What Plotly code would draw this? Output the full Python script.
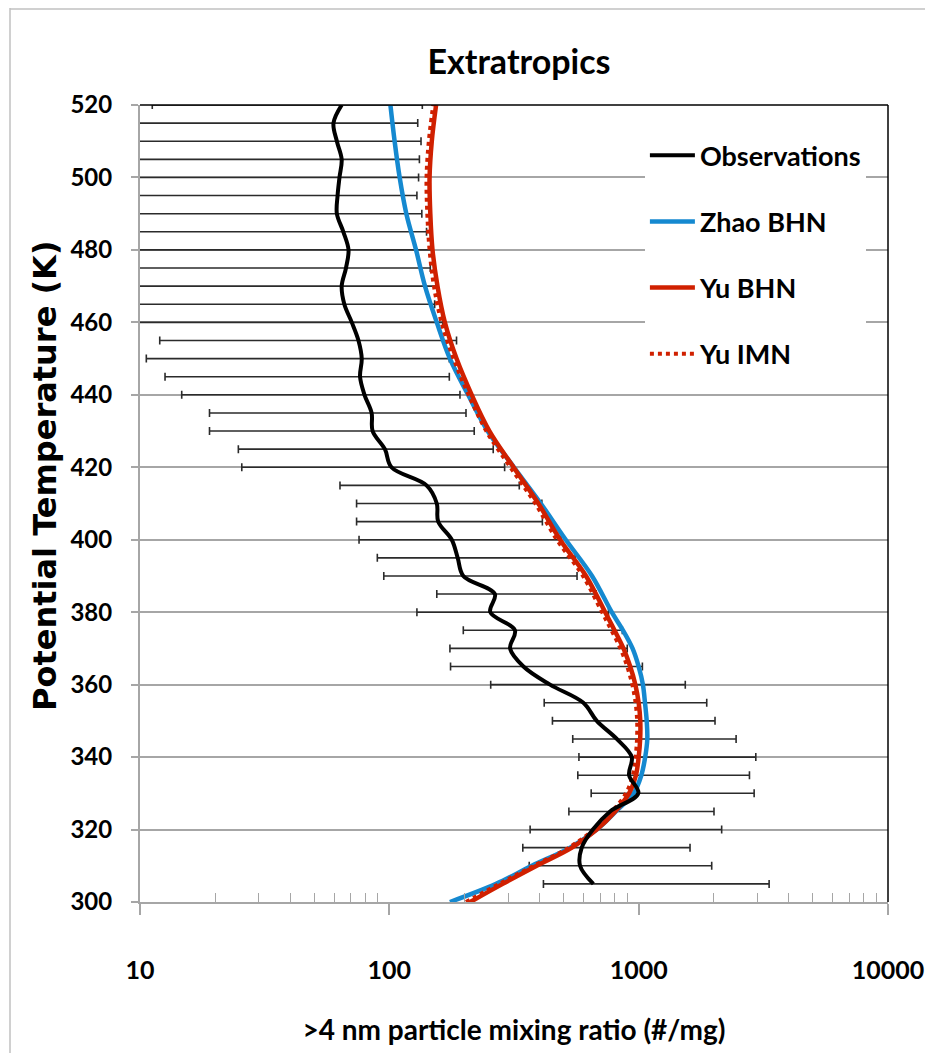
import plotly.graph_objects as go

# ---------------- data ----------------
theta_obs = [305, 310, 315, 320, 325, 330, 335, 340, 345, 350, 355, 360, 365, 370,
             375, 380, 385, 390, 395, 400, 405, 410, 415, 420, 425, 430, 435, 440,
             445, 450, 455, 460, 465, 470, 475, 480, 485, 490, 495, 500, 505, 510,
             515, 520]
obs = [658, 582, 591, 655, 768, 997, 915, 938, 817, 679, 600, 441, 345, 305,
       319, 254, 265, 198, 188, 178, 157, 155, 141, 102, 96, 85.7, 84.9, 79.5,
       76.3, 77.5, 75.2, 70.7, 66, 64.4, 67, 68.6, 65.4, 61.6, 62, 63.1, 64.4, 61.6,
       59.7, 64.4]
obs_low = [415, 364, 343, 367, 525, 645, 570, 576, 544, 451, 418, 255, 176, 175,
           198, 129, 155, 95, 89.5, 75.6, 73.9, 73.9, 63.4, 25.6, 24.8, 19, 19, 14.7,
           12.6, 10.6, 12, 8, 8, 8, 8, 8, 8, 8, 8, 8, 8, 8,
           8, 11.2]
obs_high = [3336, 1963, 1607, 2152, 2005, 2905, 2782, 2950, 2459, 2024, 1875, 1538, 1035, 900,
            860, 757, 675, 566, 556, 488, 411, 409, 332, 290, 261, 219, 203, 192,
            174, 174, 186, 164, 152, 155, 146, 148, 141, 135, 129, 131, 132, 134,
            130, 135.6]

theta_model = [300, 305, 310, 315, 320, 325, 330, 335, 340, 345, 350, 355, 360, 365,
               370, 375, 380, 390, 400, 410, 420, 430, 440, 450, 460, 470, 480, 490,
               500, 510, 520]
zhao_bhn = [175, 268, 373, 531, 679, 810, 955, 1025, 1062, 1083, 1077, 1060, 1040, 1000,
            945, 865, 780, 650, 510, 405, 316, 248, 207, 175, 155, 139, 128, 117,
            110, 105, 101]
yu_bhn = [211, 285, 390, 540, 679, 805, 915, 975, 1000, 1014, 1015, 1000, 970, 925,
          869, 800, 734, 615, 484, 396, 315, 252, 214, 186, 167, 156, 149, 146,
          145, 148, 154]
yu_imn = [203, 276, 380, 525, 662, 783, 890, 948, 972, 985, 986, 972, 943, 900,
          845, 778, 713, 598, 470, 385, 306, 245, 208, 181, 162, 151, 145, 142,
          141, 144, 150]

x_tickvals = [10, 100, 1000, 10000]
x_ticktext = ["10", "100", "1000", "10000"]
x_minor = [20, 30, 40, 50, 60, 70, 80, 90, 200, 300, 400, 500, 600, 700, 800, 900,
           2000, 3000, 4000, 5000, 6000, 7000, 8000, 9000]
y_tickvals = [300, 320, 340, 360, 380, 400, 420, 440, 460, 480, 500, 520]

# ---------------- styles ----------------
FONT = "Lato, Liberation Sans, sans-serif"
WIDE = "DejaVu Sans, Verdana, sans-serif"
GRID = "#a6a6a6"
BLUE = "#1589d0"
RED = "#d02000"

fig = go.Figure()

# error bars (drawn below the model curves)
fig.add_trace(go.Scatter(
    x=obs, y=theta_obs, mode="markers",
    marker=dict(size=1, color="rgba(0,0,0,0)"),
    error_x=dict(type="data", symmetric=False,
                 array=[h - o for h, o in zip(obs_high, obs)],
                 arrayminus=[o - l for o, l in zip(obs, obs_low)],
                 color="#2b2b2b", thickness=1.6, width=4),
    showlegend=False, hoverinfo="skip"))

fig.add_trace(go.Scatter(x=zhao_bhn, y=theta_model, mode="lines", name="Zhao BHN",
                         line=dict(color=BLUE, width=4.5, shape="spline"),
                         legendgroup="b", legendrank=2))
fig.add_trace(go.Scatter(x=yu_bhn, y=theta_model, mode="lines", name="Yu BHN",
                         line=dict(color=RED, width=4.5, shape="spline"),
                         legendgroup="c", legendrank=3))
fig.add_trace(go.Scatter(x=yu_imn, y=theta_model, mode="lines", name="Yu IMN",
                         line=dict(color=RED, width=4, shape="spline", dash="dot"),
                         legendgroup="d", legendrank=4))
fig.add_trace(go.Scatter(x=obs, y=theta_obs, mode="lines", name="Observations",
                         line=dict(color="black", width=4, shape="spline"),
                         legendgroup="a", legendrank=1))

# page body has an 8px margin: figure is 925x1045 so the plot lands on the reference pixels
W, H = 925, 1045
fig.update_layout(
    width=W, height=H,
    margin=dict(l=132, r=45, t=97, b=151, autoexpand=False),
    paper_bgcolor="white", plot_bgcolor="white",
    title=dict(text="Extratropics", x=511 / W, xanchor="center",
               y=1 - 54 / H, yanchor="middle",
               font=dict(family=FONT, size=34, color="black", weight="bold")),
    legend=dict(x=0.675, y=0.967, xanchor="left", yanchor="top",
                bgcolor="white", traceorder="grouped", tracegroupgap=28,
                itemwidth=45,
                font=dict(family=FONT, size=27, color="black", weight="bold")),
    xaxis=dict(type="log", range=[1, 4], tickmode="array", tickvals=x_tickvals,
               ticktext=x_ticktext, showgrid=False, zeroline=False,
               showline=True, linecolor=GRID, linewidth=2,
               ticks="outside", ticklen=11, tickwidth=1.5, tickcolor=GRID,
               ticklabelstandoff=34,
               tickfont=dict(family=FONT, size=25, color="black", weight="bold"),
               minor=dict(tickmode="array", tickvals=x_minor, ticks="inside",
                          ticklen=9, tickwidth=1, tickcolor=GRID, showgrid=False),
               title=dict(text=">4 nm particle mixing ratio (#/mg)", standoff=37,
                          font=dict(family=FONT, size=28, color="black", weight="bold"))),
    xaxis2=dict(type="log", range=[1, 4], overlaying="x", anchor="y", side="bottom",
                tickmode="array", tickvals=x_tickvals, showticklabels=False,
                showgrid=False, zeroline=False, showline=False,
                ticks="inside", ticklen=11, tickwidth=1.5, tickcolor=GRID),
    yaxis=dict(range=[300, 520], tickmode="array", tickvals=y_tickvals,
               showgrid=True, gridcolor=GRID, gridwidth=1.5, zeroline=False,
               showline=True, linecolor=GRID, linewidth=2,
               ticks="outside", ticklen=7, tickwidth=1.5, tickcolor=GRID,
               ticklabelstandoff=14,
               tickfont=dict(family=FONT, size=24, color="black", weight="bold")),
    annotations=[
        dict(text="Potential Temperature (K)", textangle=-90, showarrow=False,
             xref="paper", yref="paper", x=(37 - 132) / 748, y=(894 - 468) / 797,
             xanchor="center", yanchor="middle",
             font=dict(family=WIDE, size=32, color="black", weight="bold")),
    ],
    shapes=[
        dict(type="line", xref="paper", yref="paper", x0=0, x1=1, y0=1, y1=1,
             line=dict(color="black", width=1.5), layer="above"),
        dict(type="line", xref="paper", yref="paper", x0=1, x1=1, y0=0, y1=1,
             line=dict(color="black", width=1.5), layer="above"),
        dict(type="line", xref="paper", yref="paper", x0=-130 / 748, x1=-130 / 748,
             y0=-0.2, y1=894 / 797, line=dict(color="#c0c0c0", width=1.5)),
        dict(type="line", xref="paper", yref="paper", x0=-130 / 748, x1=1.1,
             y0=893 / 797, y1=893 / 797, line=dict(color="#c0c0c0", width=1.5)),
    ],
)

fig.write_html("out.html")
